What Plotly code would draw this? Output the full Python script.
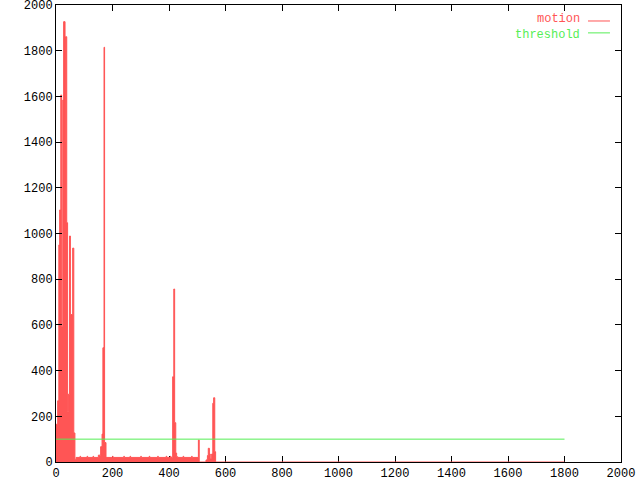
import plotly.graph_objects as go

# motion: step breakpoints (frame) and value held until the next breakpoint
motion_x = [0, 6, 10, 13, 17, 20, 24, 27, 32, 34, 38, 41, 44, 48, 51, 59, 63, 67, 71,
            85, 87, 110, 112, 131, 133, 150, 158, 163, 166, 170, 172, 177,
            200, 202, 240, 242, 262, 264, 300, 302, 330, 332, 360, 362, 390, 392, 405, 407,
            413, 417, 420, 424, 427, 431, 450, 452, 480, 482, 504, 507, 531, 536, 539,
            543, 546, 551, 555, 558, 562, 565, 1800]
motion_y = [165, 268, 950, 1103, 1606, 592, 1584, 1927, 1400, 1861, 1047, 220, 297, 989, 645, 936, 127, 10, 20,
            25, 20, 25, 20, 25, 20, 30, 67, 122, 500, 1815, 85, 20,
            25, 20, 25, 20, 25, 20, 25, 20, 25, 20, 25, 20, 25, 20, 25, 20,
            373, 757, 172, 39, 23, 20, 25, 20, 25, 20, 96, 0, 9, 28, 60,
            35, 13, 35, 257, 281, 45, 0, 0]

threshold_x = [0, 1800]
threshold_y = [100, 100]

tick_vals = list(range(0, 2001, 200))

RED = "#ff5555"
GREEN = "#55ee55"
FONT = "Liberation Mono"

fig = go.Figure()
fig.add_trace(go.Scatter(
    x=motion_x, y=motion_y, mode="lines", line_shape="hv",
    line=dict(color=RED, width=1),
    fill="tozeroy", fillcolor=RED, name="motion",
))
fig.add_trace(go.Scatter(
    x=threshold_x, y=threshold_y, mode="lines",
    line=dict(color=GREEN, width=1), name="threshold",
))

axis_common = dict(
    showgrid=False, zeroline=False, showline=True, linecolor="black", linewidth=1,
    mirror="allticks", ticks="inside", ticklen=6, tickcolor="black",
    tickvals=tick_vals, ticktext=[str(v) for v in tick_vals],
    range=[0, 2000], automargin=False, ticklabeloverflow="allow",
    tickfont=dict(family=FONT, size=12, color="black"),
)

fig.update_layout(
    width=640, height=480,
    margin=dict(l=56, r=19, t=5, b=18),
    plot_bgcolor="white", paper_bgcolor="white",
    showlegend=False,
    xaxis=dict(**axis_common, layer="below traces"),
    yaxis=dict(**axis_common),
)

# gnuplot style key: coloured label, then a line sample
# (labels anchored to the gap between the two rows so their boxes don't overlap)
KEY_MID = 0.952
key = [("motion", RED, 0.965, "bottom"), ("threshold", GREEN, 0.939, "top")]
for label, color, ky, anchor in key:
    fig.add_annotation(x=0.929, y=KEY_MID, xref="paper", yref="paper", text=label,
                       showarrow=False, xanchor="right", yanchor=anchor, borderpad=0,
                       font=dict(family=FONT, size=12, color=color))
    fig.add_shape(type="line", xref="paper", yref="paper",
                  x0=0.9416, x1=0.9805, y0=ky, y1=ky,
                  line=dict(color=color, width=1))

# page body has a default 8px margin; drop it so the 640x480 figure fills the window
fig.write_html("out.html", config={"displayModeBar": False},
               post_script="document.body.style.margin='0';")
